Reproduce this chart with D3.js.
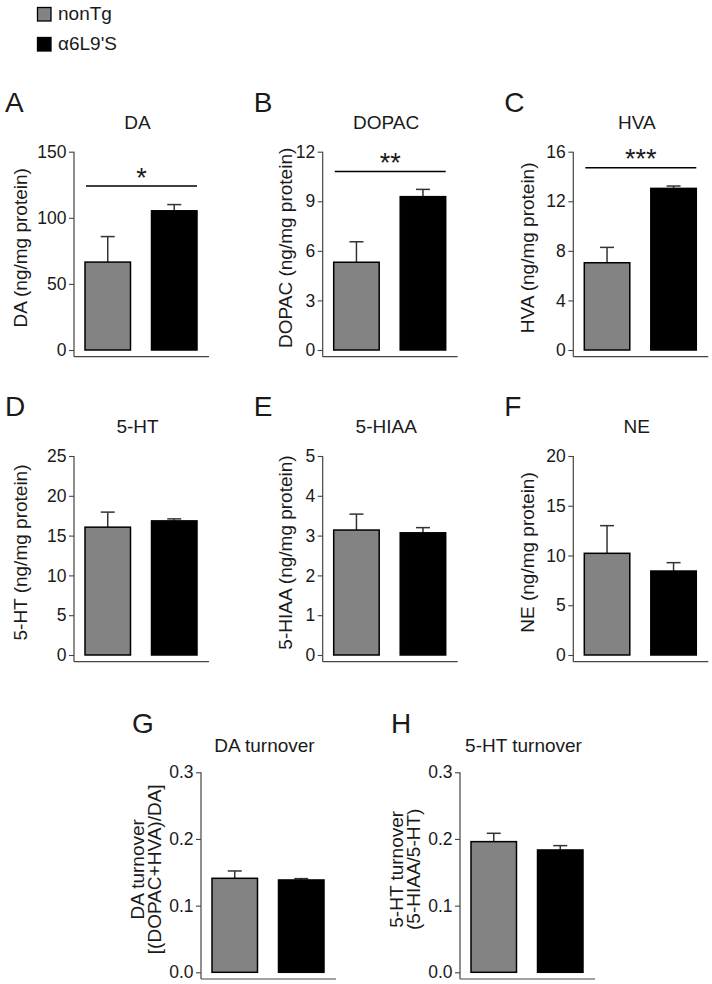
<!DOCTYPE html>
<html>
<head>
<meta charset="utf-8">
<script src="https://cdn.jsdelivr.net/npm/d3@7"></script>
<style>
  html, body { margin: 0; padding: 0; background: #fff; }
  svg { display: block; }
  text { font-family: "Liberation Sans", Arial, Helvetica, sans-serif; fill: #1a1a1a; }
</style>
</head>
<body>
<svg id="chart" width="712" height="984"></svg>
<script>
// ---------------- DATA ----------------
const groups = ["nonTg", "α6L9'S"];
const letters = ["A", "B", "C", "D", "E", "F", "G", "H"];
const titles = ["DA", "DOPAC", "HVA", "5-HT", "5-HIAA", "NE", "DA turnover", "5-HT turnover"];
const yLabels = [
  ["DA (ng/mg protein)"],
  ["DOPAC (ng/mg protein)"],
  ["HVA (ng/mg protein)"],
  ["5-HT (ng/mg protein)"],
  ["5-HIAA (ng/mg protein)"],
  ["NE (ng/mg protein)"],
  ["DA turnover", "[(DOPAC+HVA)/DA]"],
  ["5-HT turnover", "(5-HIAA/5-HT)"]
];
const yMax = [150, 12, 16, 25, 5, 20, 0.3, 0.3];
const tickSets = [
  [0, 50, 100, 150],
  [0, 3, 6, 9, 12],
  [0, 4, 8, 12, 16],
  [0, 5, 10, 15, 20, 25],
  [0, 1, 2, 3, 4, 5],
  [0, 5, 10, 15, 20],
  [0, 0.1, 0.2, 0.3],
  [0, 0.1, 0.2, 0.3]
];
const tickFormats = ["d", "d", "d", "d", "d", "d", ".1f", ".1f"];
const meanNonTg = [66.5, 5.31, 7.04, 16.06, 3.14, 10.22, 0.141, 0.196];
const meanA6L9S = [105.3, 9.28, 13.04, 16.85, 3.07, 8.44, 0.1385, 0.1835];
const semNonTg = [19.3, 1.24, 1.24, 1.89, 0.40, 2.78, 0.011, 0.0125];
const semA6L9S = [4.7, 0.44, 0.19, 0.25, 0.13, 0.84, 0.002, 0.0065];
const sigStars = ["*", "**", "***", "", "", "", "", ""];
const sigLevel = [124, 10.8, 14.7, null, null, null, null, null];

// ---------------- LAYOUT ----------------
const colors = ["#838383", "#000000"];
const axisXs = [74, 322.7, 573.3, 74, 322.7, 573.3, 201, 460];
const rowOf = [0, 0, 0, 1, 1, 1, 2, 2];
const rowTop = [151.7, 456, 772.3];
const rowZero = [350, 655, 972.3];
const rowTitleY = [129.3, 433.3, 751.7];
const rowLetterY = [111.7, 416, 733];
const labelOffset = [47, 30.7, 39.3, 47, 30.7, 39.3, 57, 57];

const svg = d3.select("#chart");

// Legend
const legend = svg.append("g");
groups.forEach((g, i) => {
  legend.append("rect")
    .attr("x", 37.5).attr("y", 7.5 + i * 30)
    .attr("width", 13.5).attr("height", 13.5)
    .attr("fill", colors[i]).attr("stroke", "#000").attr("stroke-width", 1.3);
  legend.append("text")
    .attr("x", 58).attr("y", 19.5 + i * 30.5)
    .attr("font-size", 19)
    .text(g);
});

for (let p = 0; p < 8; p++) {
  const r = rowOf[p];
  const ax = axisXs[p];
  const y0 = rowZero[r], yT = rowTop[r];
  const xAxisY = y0 + 6.7;
  const g = svg.append("g");

  const y = d3.scaleLinear().domain([0, yMax[p]]).range([y0, yT]);
  const x = d3.scaleBand().domain(groups).range([ax + 11, ax + 123]).paddingInner(0.316).paddingOuter(0);

  // Panel letter
  g.append("text").attr("x", ax - 69).attr("y", rowLetterY[r])
    .attr("font-size", 28).text(letters[p]);

  // Title
  g.append("text").attr("x", ax + 63.5).attr("y", rowTitleY[r])
    .attr("text-anchor", "middle").attr("font-size", 19).text(titles[p]);

  // Y axis ticks
  const yAxis = d3.axisLeft(y).tickValues(tickSets[p])
    .tickFormat(d3.format(tickFormats[p]))
    .tickSizeInner(5).tickSizeOuter(0).tickPadding(2.5);
  const ya = g.append("g").attr("transform", `translate(${ax},0)`).call(yAxis);
  ya.select(".domain").remove();
  ya.selectAll(".tick line").attr("stroke", "#444").attr("stroke-width", 1.1);
  ya.selectAll(".tick text").attr("font-size", 17.5).attr("fill", "#1a1a1a")
    .attr("font-family", "Liberation Sans, Arial, sans-serif");

  // axis lines
  g.append("line").attr("x1", ax).attr("x2", ax).attr("y1", yT).attr("y2", xAxisY)
    .attr("stroke", "#444").attr("stroke-width", 1.2);
  g.append("line").attr("x1", ax).attr("x2", ax + 135).attr("y1", xAxisY).attr("y2", xAxisY)
    .attr("stroke", "#444").attr("stroke-width", 1.2);

  // Y label
  const lines = yLabels[p];
  const cy = (yT + y0) / 2 - 3;
  lines.forEach((t, i) => {
    const bx = ax - labelOffset[p] + (lines.length > 1 ? i * 17 : 0);
    g.append("text")
      .attr("transform", `translate(${bx},${cy}) rotate(-90)`)
      .attr("text-anchor", "middle").attr("font-size", 19).text(t);
  });

  // Bars
  const means = [meanNonTg[p], meanA6L9S[p]];
  const sems = [semNonTg[p], semA6L9S[p]];
  groups.forEach((gr, i) => {
    const cx = x(gr) + x.bandwidth() / 2;
    // error bar (upward only)
    g.append("line").attr("x1", cx).attr("x2", cx)
      .attr("y1", y(means[i])).attr("y2", y(means[i] + sems[i]))
      .attr("stroke", "#333").attr("stroke-width", 1.5);
    g.append("line").attr("x1", cx - 7).attr("x2", cx + 7)
      .attr("y1", y(means[i] + sems[i])).attr("y2", y(means[i] + sems[i]))
      .attr("stroke", "#333").attr("stroke-width", 1.5);
    g.append("rect")
      .attr("x", x(gr)).attr("y", y(means[i]))
      .attr("width", x.bandwidth()).attr("height", y0 - y(means[i]))
      .attr("fill", colors[i]).attr("stroke", "#000").attr("stroke-width", 1.5);
  });

  // significance
  if (sigStars[p]) {
    const ly = y(sigLevel[p]);
    const x1 = x(groups[0]) + 1, x2 = x(groups[1]) + x.bandwidth();
    g.append("line").attr("x1", x1).attr("x2", x2).attr("y1", ly).attr("y2", ly)
      .attr("stroke", "#000").attr("stroke-width", 1.4);
    g.append("text").attr("x", (x1 + x2) / 2).attr("y", ly + 0.5)
      .attr("text-anchor", "middle").attr("font-size", 27).text(sigStars[p]);
  }
}
</script>
</body>
</html>
